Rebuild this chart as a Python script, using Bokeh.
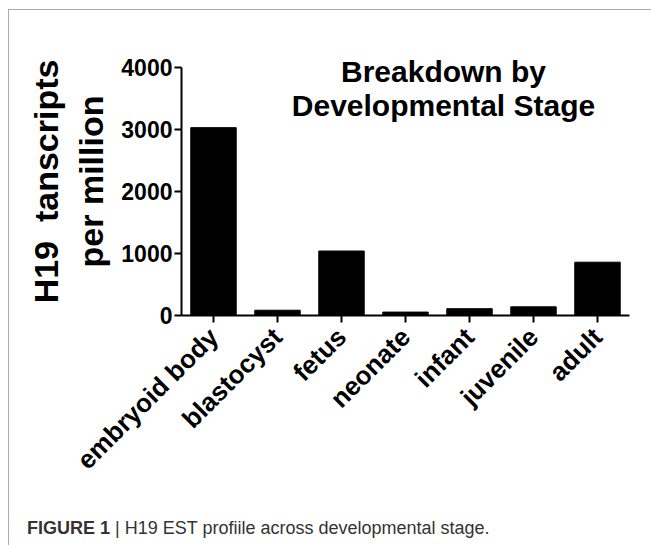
from math import pi
from bokeh.plotting import figure
from bokeh.layouts import column
from bokeh.models import FactorRange, Range1d, FixedTicker, Label, Div
from bokeh.embed import file_html
from bokeh.resources import INLINE

stages = ["embryoid body", "blastocyst", "fetus", "neonate", "infant", "juvenile", "adult"]
tpm = [3030, 85, 1040, 55, 110, 140, 860]
y_ticks = [0, 1000, 2000, 3000, 4000]
title_lines = ["Breakdown by", "Developmental Stage"]
ylabel_text = "H19 \u00a0tanscripts\nper million"
caption_bold = "FIGURE 1"
caption_rest = "| H19 EST profiile across developmental stage."

FONT = "Liberation Sans"

p = figure(width=642, height=480, x_range=FactorRange(factors=stages, range_padding=0),
           y_range=Range1d(0, 4323), output_backend="svg", toolbar_location=None,
           title=None, min_border_left=172, min_border_right=22,
           min_border_top=37, min_border_bottom=175)
p.outline_line_color = None
p.xgrid.visible = False
p.ygrid.visible = False
p.background_fill_color = "white"
p.border_fill_color = "white"

p.vbar(x=stages, top=tpm, width=0.71, fill_color="black", line_color="black")

for ax in (p.xaxis[0], p.yaxis[0]):
    ax.axis_line_width = 2
    ax.axis_line_color = "black"
    ax.major_tick_line_width = 2
    ax.major_tick_line_color = "black"
    ax.major_tick_in = 0
    ax.major_tick_out = 7
    ax.minor_tick_line_color = None
    ax.major_label_text_font = FONT
    ax.major_label_text_font_style = "bold"
    ax.major_label_text_color = "black"

p.yaxis[0].ticker = FixedTicker(ticks=y_ticks)
p.yaxis[0].bounds = (0, 4000)
p.yaxis[0].major_label_text_font_size = "23px"
p.yaxis[0].major_label_standoff = 2
p.yaxis[0].axis_label = ylabel_text
p.yaxis[0].axis_label_text_font = FONT
p.yaxis[0].axis_label_text_font_style = "bold"
p.yaxis[0].axis_label_text_font_size = "34px"
p.yaxis[0].axis_label_text_color = "black"
p.yaxis[0].axis_label_standoff = 8
p.xaxis[0].major_label_text_font_size = "26px"
p.xaxis[0].major_label_orientation = pi / 4
p.xaxis[0].major_label_standoff = 10

# title inside plot
for txt, yv in zip(title_lines, [3936, 3387]):
    p.add_layout(Label(x=4.094, y=yv, text=txt, text_align="center", text_baseline="alphabetic",
                       text_font=FONT, text_font_style="bold", text_font_size="30px",
                       text_color="black"))

cap = Div(text=f'<b>{caption_bold}</b> {caption_rest}',
          width=620, height=50,
          styles={"font-family": "'Liberation Sans', Arial, sans-serif",
                  "font-size": "18px", "color": "#333333", "padding-left": "13px",
                  "padding-top": "21px"})

layout = column(p, cap, spacing=0,
                styles={"margin-left": "8px", "margin-top": "9px",
                        "border-left": "1px solid #ababab", "border-top": "1px solid #ababab"})

open("out.html", "w").write(file_html(layout, INLINE))
